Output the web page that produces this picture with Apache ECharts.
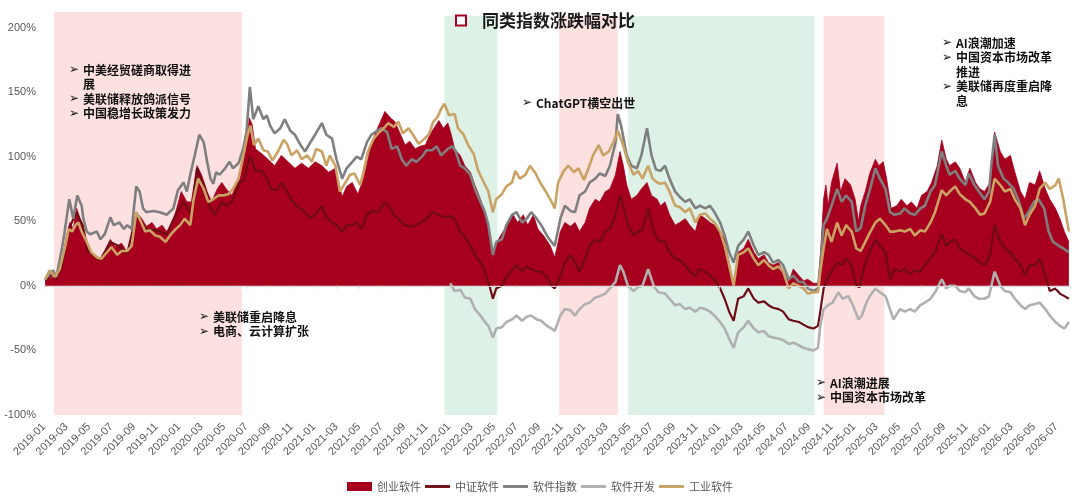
<!DOCTYPE html>
<html>
<head>
<meta charset="utf-8">
<script src="https://cdn.jsdelivr.net/npm/echarts@6/dist/echarts.min.js"></script>
<style>
html, body { margin: 0; padding: 0; background: #fff; }
#main { width: 1080px; height: 498px; }
</style>
</head>
<body>
<div id="main"></div>
<script>
// x = months since 2019-01-01, y = cumulative change in %
var cySoft = [[0.1,4],[0.8,7],[1.1,5],[1.6,18],[2.0,39],[2.3,49],[2.6,44],[2.9,60],[3.2,52],[3.5,47],[3.9,29],[4.4,24],[5.0,21],[5.4,27],[5.9,36],[6.3,30],[6.9,33],[7.4,26],[7.8,31],[8.2,57],[8.7,52],[9.1,46],[9.6,49],[10.0,44],[10.5,47],[10.9,42],[11.4,47],[11.8,60],[12.2,73],[12.7,65],[13.1,65],[13.6,93],[14.0,86],[14.5,73],[14.9,65],[15.4,75],[15.8,80],[16.2,75],[16.7,70],[17.1,78],[17.6,96],[17.9,104],[18.25,130],[18.5,125],[18.8,106],[19.4,102],[19.9,98],[20.5,93],[21.1,101],[21.7,96],[22.3,91],[22.9,95],[23.5,91],[24.1,96],[24.7,93],[25.3,88],[25.9,91],[26.5,69],[26.9,77],[27.4,80],[27.9,71],[28.4,83],[29.0,106],[29.4,117],[29.9,127],[30.3,135],[30.8,130],[31.2,127],[31.6,119],[32.1,109],[32.5,112],[33.0,106],[33.4,108],[33.9,109],[34.3,117],[34.8,124],[35.1,128],[35.5,122],[35.9,126],[36.2,117],[36.5,106],[37.0,101],[37.4,93],[37.9,88],[38.3,78],[38.8,67],[39.2,55],[39.6,42],[39.9,21],[40.1,31],[40.4,36],[40.8,42],[41.2,47],[41.7,55],[42.1,49],[42.6,55],[43.0,47],[43.5,55],[43.9,44],[44.4,39],[45.0,31],[45.4,22],[45.9,42],[46.3,49],[46.8,46],[47.2,49],[47.6,42],[48.1,49],[48.5,60],[49.0,67],[49.4,65],[49.9,73],[50.3,75],[50.8,86],[51.2,104],[51.5,93],[51.8,78],[52.2,67],[52.7,70],[53.1,75],[53.6,80],[54.0,70],[54.5,67],[54.8,62],[55.2,65],[55.6,55],[56.1,47],[56.5,49],[57.0,52],[57.4,47],[57.9,42],[58.3,55],[58.8,52],[59.2,49],[59.6,47],[60.1,42],[60.5,36],[60.9,18],[61.3,1],[61.7,26],[62.2,29],[62.6,36],[63.1,26],[63.5,21],[64.0,24],[64.4,18],[64.8,16],[65.3,18],[65.7,11],[66.2,3],[66.6,13],[67.1,8],[67.5,4],[67.9,5],[68.4,2],[68.8,2],[69.0,21],[69.3,67],[69.5,78],[69.7,62],[70.0,80],[70.5,95],[70.8,73],[71.2,83],[71.7,78],[72.1,67],[72.4,50],[72.6,62],[73.0,73],[73.4,87],[73.9,98],[74.2,93],[74.6,96],[74.9,83],[75.3,60],[75.8,62],[76.2,67],[76.7,62],[77.1,65],[77.6,60],[78.0,70],[78.5,73],[78.9,80],[79.4,93],[79.8,113],[80.2,98],[80.5,93],[81.0,96],[81.4,91],[81.9,80],[82.3,91],[82.8,80],[83.2,75],[83.6,73],[84.1,80],[84.5,119],[85.0,104],[85.4,98],[85.9,101],[86.3,88],[86.8,73],[87.2,67],[87.6,80],[88.1,78],[88.5,89],[89.0,75],[89.4,67],[89.9,60],[90.3,52],[90.7,42],[91.1,34]];

var zzSoft = [[0.1,4],[0.8,9],[1.1,5],[1.6,16],[2.0,34],[2.3,46],[2.9,57],[3.4,47],[3.9,27],[5.0,20],[5.9,34],[6.8,30],[7.4,25],[8.2,55],[9.1,44],[10.0,43],[10.9,40],[11.8,57],[12.4,65],[13.1,55],[13.6,91],[14.2,78],[14.8,60],[15.2,55],[15.8,65],[16.2,62],[16.8,66],[17.4,80],[17.8,82],[18.1,95],[18.35,100],[18.8,89],[19.4,89],[19.8,83],[20.2,75],[20.7,74],[21.1,80],[21.6,73],[22.0,66],[22.6,61],[23.2,57],[23.6,52],[24.1,55],[24.7,62],[25.1,53],[25.6,49],[26.0,47],[26.5,42],[26.9,47],[27.4,47],[27.8,49],[28.2,44],[28.7,55],[29.1,58],[29.7,57],[30.3,65],[30.8,60],[31.2,54],[31.6,51],[32.1,47],[32.7,46],[33.3,48],[33.9,51],[34.5,57],[35.1,55],[35.6,53],[36.1,54],[36.5,52],[37.0,42],[37.4,38],[37.9,31],[38.3,24],[38.8,18],[39.2,11],[39.6,0],[39.9,-10],[40.2,-2],[40.7,0],[41.1,7],[41.6,12],[42.0,16],[42.5,11],[42.9,15],[43.3,13],[43.8,11],[44.2,11],[44.7,7],[45.1,0],[45.4,-2],[45.9,8],[46.3,18],[46.8,24],[47.2,18],[47.6,11],[48.1,21],[48.5,31],[49.0,36],[49.4,34],[49.9,42],[50.3,44],[50.8,55],[51.2,70],[51.5,62],[51.9,47],[52.4,39],[52.8,42],[53.2,44],[53.7,60],[54.2,42],[54.6,35],[55.2,34],[55.6,26],[56.1,21],[56.5,20],[57.0,16],[57.4,11],[57.9,8],[58.3,13],[58.8,11],[59.2,8],[59.6,5],[60.1,-2],[60.5,-10],[60.9,-20],[61.3,-27],[61.7,-10],[62.2,-8],[62.6,-2],[63.1,-10],[63.5,-13],[64.0,-12],[64.4,-15],[64.8,-17],[65.3,-18],[65.7,-20],[66.2,-26],[66.6,-27],[67.1,-28],[67.5,-30],[67.9,-32],[68.4,-33],[68.8,-31],[69.0,-20],[69.3,-2],[69.6,5],[70.0,11],[70.5,18],[70.9,16],[71.3,21],[71.8,16],[72.2,0],[72.5,-1],[72.95,16],[73.4,26],[73.9,36],[74.3,31],[74.8,26],[75.2,5],[75.6,13],[76.1,11],[76.5,13],[77.0,9],[77.4,12],[77.9,11],[78.3,16],[78.8,21],[79.2,26],[79.8,40],[80.2,31],[80.5,34],[81.0,36],[81.4,29],[81.9,26],[82.3,24],[82.8,21],[83.2,18],[83.6,16],[84.1,24],[84.5,47],[85.0,34],[85.4,29],[85.9,26],[86.3,21],[86.8,16],[87.2,8],[87.6,16],[88.1,16],[88.5,21],[89.0,8],[89.4,-4],[89.9,-2],[90.3,-6],[90.7,-8],[91.1,-10]];

var rjIndex = [[0.1,5],[0.8,12],[1.1,7],[1.6,29],[1.8,40],[2.25,67],[2.6,52],[2.96,70],[3.35,62],[3.5,52],[3.8,42],[4.1,40],[4.7,42],[5.0,36],[5.4,40],[5.9,53],[6.2,47],[6.7,49],[7.1,44],[7.4,47],[7.8,44],[8.2,77],[8.5,73],[8.8,60],[9.1,57],[9.7,58],[10.3,57],[10.9,55],[11.5,60],[11.9,74],[12.4,80],[12.7,73],[13.0,86],[13.4,101],[13.8,117],[14.2,111],[14.5,96],[14.8,83],[15.05,79],[15.3,88],[15.6,86],[16.1,91],[16.5,96],[16.8,91],[17.3,95],[17.7,106],[18.0,119],[18.3,154],[18.6,129],[19.05,139],[19.5,129],[19.8,132],[20.1,124],[20.5,118],[21.0,122],[21.4,129],[21.9,120],[22.3,117],[22.8,109],[23.2,104],[23.6,110],[24.1,117],[24.7,126],[25.1,117],[25.6,114],[26.0,98],[26.5,83],[26.9,91],[27.4,96],[27.8,100],[28.2,98],[28.7,111],[29.1,117],[29.6,120],[30.0,122],[30.5,119],[30.9,106],[31.4,108],[31.8,98],[32.2,93],[32.7,98],[33.1,96],[33.6,100],[34.0,105],[34.5,105],[34.9,108],[35.3,101],[35.9,106],[36.3,108],[36.6,104],[37.0,93],[37.4,91],[37.9,86],[38.3,75],[38.8,65],[39.2,57],[39.5,47],[39.9,24],[40.2,34],[40.7,36],[41.1,47],[41.6,55],[42.0,57],[42.5,49],[42.9,52],[43.3,57],[43.8,52],[44.2,47],[44.7,39],[45.1,34],[45.4,31],[45.9,52],[46.3,62],[46.8,58],[47.2,57],[47.6,70],[48.1,73],[48.5,80],[49.0,83],[49.4,87],[49.9,85],[50.3,93],[50.8,111],[51.0,133],[51.3,124],[51.8,101],[52.2,93],[52.7,91],[53.1,101],[53.6,122],[54.0,101],[54.4,90],[54.8,89],[55.2,93],[55.6,83],[56.1,73],[56.5,69],[57.0,65],[57.4,67],[57.9,60],[58.3,62],[58.8,60],[59.2,62],[59.6,57],[60.1,49],[60.5,39],[60.9,26],[61.3,18],[61.7,31],[62.2,36],[62.6,42],[63.1,31],[63.5,24],[64.0,26],[64.4,24],[64.8,18],[65.3,20],[65.7,16],[66.2,5],[66.6,8],[67.1,3],[67.5,3],[67.9,-2],[68.4,-4],[68.8,-2],[69.0,16],[69.3,47],[69.6,52],[70.0,62],[70.5,75],[70.9,65],[71.3,70],[71.8,65],[72.2,42],[72.6,45],[73.0,62],[73.4,74],[73.9,91],[74.3,83],[74.8,75],[75.2,57],[75.6,55],[76.1,56],[76.5,60],[77.0,56],[77.4,55],[77.9,60],[78.3,62],[78.8,73],[79.2,78],[79.8,104],[80.2,93],[80.5,86],[81.0,89],[81.4,83],[81.9,78],[82.2,87],[82.7,78],[83.1,73],[83.6,67],[84.0,73],[84.2,93],[84.5,117],[84.8,93],[85.3,83],[85.7,80],[86.2,75],[86.6,67],[87.1,52],[87.5,57],[88.0,65],[88.4,67],[88.9,60],[89.3,42],[89.7,34],[90.2,31],[90.6,29],[91.1,26]];

var rjDev = [[36.1,2],[36.5,-4],[37.0,-3],[37.4,-9],[37.9,-10],[38.3,-18],[38.8,-23],[39.2,-28],[39.5,-31],[39.9,-40],[40.2,-33],[40.7,-32],[41.1,-28],[41.6,-26],[42.0,-23],[42.5,-27],[42.9,-24],[43.3,-23],[43.8,-26],[44.2,-27],[44.7,-31],[45.1,-33],[45.4,-35],[45.9,-23],[46.3,-18],[46.8,-19],[47.2,-23],[47.6,-18],[48.1,-14],[48.5,-13],[49.0,-9],[49.4,-8],[49.9,-6],[50.3,-2],[50.8,3],[51.2,16],[51.5,11],[51.9,0],[52.4,-4],[52.8,-1],[53.2,0],[53.7,13],[54.2,0],[54.6,-5],[55.2,-6],[55.6,-10],[56.1,-15],[56.5,-14],[57.0,-18],[57.4,-17],[57.9,-20],[58.3,-17],[58.8,-18],[59.2,-20],[59.6,-23],[60.1,-28],[60.5,-33],[60.9,-41],[61.3,-48],[61.7,-36],[62.2,-32],[62.6,-27],[63.1,-33],[63.5,-36],[64.0,-35],[64.4,-39],[64.8,-40],[65.3,-41],[65.7,-42],[66.2,-45],[66.6,-44],[67.1,-46],[67.5,-48],[67.9,-49],[68.4,-50],[68.8,-48],[69.0,-31],[69.3,-18],[69.7,-15],[70.1,-13],[70.6,-5],[71.0,-10],[71.5,-8],[71.9,-15],[72.4,-26],[72.7,-23],[73.1,-13],[73.4,-8],[73.9,-2],[74.3,-5],[74.8,-8],[75.2,-18],[75.5,-26],[76.1,-18],[76.5,-20],[77.0,-18],[77.4,-20],[77.9,-15],[78.3,-13],[78.8,-10],[79.2,-5],[79.8,5],[80.2,-2],[80.5,0],[81.0,0],[81.4,-4],[81.9,-5],[82.2,-2],[82.7,-8],[83.1,-10],[83.6,-10],[84.0,-8],[84.5,11],[85.0,0],[85.4,-4],[85.9,-5],[86.3,-10],[86.8,-15],[87.2,-18],[87.6,-15],[88.1,-14],[88.5,-13],[89.0,-18],[89.4,-23],[89.9,-28],[90.3,-31],[90.7,-33],[91.1,-28]];

var gySoft = [[0.1,5],[0.5,12],[1.0,7],[1.4,13],[1.9,31],[2.2,44],[2.5,42],[2.8,47],[3.05,49],[3.35,42],[3.8,34],[4.2,26],[4.7,22],[5.1,21],[5.6,26],[6.0,30],[6.5,24],[6.9,27],[7.4,27],[7.8,31],[8.2,57],[8.5,52],[9.0,42],[9.4,43],[9.9,39],[10.3,38],[10.8,34],[11.2,39],[11.6,43],[12.1,47],[12.5,52],[13.0,47],[13.3,67],[13.7,83],[14.2,75],[14.6,65],[15.05,67],[15.5,70],[15.9,70],[16.4,71],[16.8,75],[17.3,83],[17.7,100],[18.1,117],[18.35,124],[18.65,109],[19.05,114],[19.5,105],[19.9,104],[20.3,97],[20.8,104],[21.3,113],[21.6,110],[22.0,101],[22.5,105],[22.9,98],[23.4,101],[23.8,96],[24.2,106],[24.7,104],[25.1,93],[25.4,101],[25.9,93],[26.3,73],[26.8,80],[27.2,86],[27.6,87],[28.1,78],[28.4,88],[28.8,104],[29.3,114],[29.7,118],[30.2,122],[30.6,126],[31.1,123],[31.5,127],[31.9,118],[32.4,122],[32.8,117],[33.3,110],[33.7,113],[34.2,117],[34.6,127],[35.0,131],[35.3,137],[35.6,141],[36.0,132],[36.5,133],[36.8,122],[37.3,117],[37.7,109],[38.2,102],[38.6,89],[39.1,80],[39.5,73],[39.9,57],[40.2,67],[40.7,71],[41.1,77],[41.6,80],[41.9,89],[42.3,83],[42.8,86],[43.2,93],[43.7,87],[44.1,80],[44.6,73],[45.0,67],[45.4,60],[45.7,80],[46.2,89],[46.6,93],[47.1,88],[47.5,91],[48.0,82],[48.4,91],[48.8,101],[49.3,109],[49.7,101],[50.2,104],[50.6,111],[51.0,120],[51.4,111],[51.9,96],[52.4,86],[52.8,89],[53.2,83],[53.7,93],[54.1,83],[54.5,80],[54.8,79],[55.2,80],[55.6,73],[56.1,62],[56.5,61],[57.0,57],[57.4,60],[57.9,49],[58.3,55],[58.8,56],[59.2,52],[59.6,49],[60.1,42],[60.5,31],[60.9,16],[61.3,0],[61.7,24],[62.2,26],[62.6,29],[63.1,21],[63.5,16],[64.0,20],[64.4,16],[64.8,13],[65.3,15],[65.7,11],[66.2,-2],[66.6,2],[67.1,0],[67.5,-2],[67.9,-6],[68.4,-5],[68.8,-5],[69.0,11],[69.3,29],[69.6,44],[70.0,34],[70.5,49],[70.9,39],[71.3,47],[71.8,42],[72.2,29],[72.6,27],[73.0,34],[73.4,41],[73.9,49],[74.3,52],[74.8,47],[75.2,42],[75.6,42],[76.1,43],[76.5,42],[77.0,44],[77.4,39],[77.9,43],[78.3,42],[78.8,49],[79.2,57],[79.8,74],[80.2,70],[80.5,73],[81.0,77],[81.4,71],[81.9,67],[82.3,65],[82.8,60],[83.2,55],[83.6,56],[84.1,65],[84.5,83],[85.0,78],[85.4,73],[85.9,75],[86.3,67],[86.8,60],[87.2,47],[87.6,55],[88.1,62],[88.5,75],[89.0,80],[89.4,75],[89.9,78],[90.2,83],[90.6,67],[91.1,42]];

var seriesNames = ['创业软件', '中证软件', '软件指数', '软件开发', '工业软件'];

// shaded periods: [from month, to month, colour, top %]
var bands = [
    [0.9, 17.6, '#fde1e1', 212],
    [35.6, 40.3, '#ddf1e7', 209],
    [45.8, 51.0, '#fde1e1', 209],
    [51.9, 68.5, '#ddf1e7', 209],
    [69.3, 74.7, '#fde1e1', 209]
];

// event notes (pixel positions), [text, has bullet]
var notes = [
    {x: 70, y: 70, lines: [['中美经贸磋商取得进', 1], ['展', 0], ['美联储释放鸽派信号', 1], ['中国稳增长政策发力', 1]]},
    {x: 200, y: 317, lines: [['美联储重启降息', 1], ['电商、云计算扩张', 1]]},
    {x: 523, y: 103, lines: [['ChatGPT横空出世', 1]]},
    {x: 943, y: 43, lines: [['AI浪潮加速', 1], ['中国资本市场改革', 1], ['推进', 0], ['美联储再度重启降', 1], ['息', 0]]},
    {x: 817, y: 383, lines: [['AI浪潮进展', 1], ['中国资本市场改革', 1]]}
];

var latin = "'Liberation Sans', 'Noto Sans CJK SC', sans-serif";
var cjk = "'Noto Sans CJK SC', sans-serif";

function monthLabel(v) {
    if (v % 2 !== 0) return '';
    var y = 2019 + Math.floor(v / 12);
    var m = v % 12 + 1;
    return y + '-' + (m < 10 ? '0' + m : m);
}

// build the note texts
var graphics = [];
notes.forEach(function (n) {
    n.lines.forEach(function (l, i) {
        var y = n.y + i * 14.6;
        if (l[1]) {
            graphics.push({
                type: 'text', x: n.x - 1, y: y, z: 100, silent: true,
                style: {text: '➢', fill: '#111', fontSize: 12, fontWeight: 'bold', fontFamily: "'DejaVu Sans', sans-serif", verticalAlign: 'middle'}
            });
        }
        graphics.push({
            type: 'text', x: n.x + 13, y: y, z: 100, silent: true,
            style: {text: l[0], fill: '#111', fontSize: 12, fontWeight: 'bold', fontFamily: cjk, verticalAlign: 'middle'}
        });
    });
});
// title
graphics.push({
    type: 'rect', z: 100, silent: true,
    shape: {x: 456, y: 15.5, width: 10, height: 10},
    style: {fill: '#fff', stroke: '#A50021', lineWidth: 2}
});
graphics.push({
    type: 'text', x: 482, y: 21, z: 100, silent: true,
    style: {text: '同类指数涨跌幅对比', fill: '#1a1a1a', fontSize: 17, fontWeight: 'bold', fontFamily: cjk, verticalAlign: 'middle'}
});

var chart = echarts.init(document.getElementById('main'));

var lineIcon = 'path://M0,0H26V3H0Z';

function lineSeries(name, data, color, width) {
    return {
        name: name,
        type: 'line',
        data: data,
        symbol: 'none',
        showSymbol: false,
        z: 3,
        lineStyle: {color: color, width: width},
        itemStyle: {color: color}
    };
}

var option = {
    animation: false,
    backgroundColor: '#fff',
    grid: {left: 44, right: 10, top: 12, bottom: 83, containLabel: false},
    legend: {
        top: 476,
        left: 'center',
        itemWidth: 25,
        itemHeight: 9,
        itemGap: 4,
        textStyle: {color: '#595959', fontSize: 11, fontFamily: cjk},
        data: [
            {name: seriesNames[0], icon: 'rect'},
            {name: seriesNames[1], icon: lineIcon},
            {name: seriesNames[2], icon: lineIcon},
            {name: seriesNames[3], icon: lineIcon},
            {name: seriesNames[4], icon: lineIcon}
        ]
    },
    xAxis: [{
        type: 'value',
        position: 'bottom',
        min: 0,
        max: 91.2,
        interval: 2,
        axisLine: {show: false, onZero: false},
        axisTick: {show: false},
        splitLine: {show: false},
        axisLabel: {
            rotate: 45,
            margin: 10,
            color: '#595959',
            fontSize: 11,
            fontFamily: latin,
            showMaxLabel: false,
            formatter: monthLabel
        }
    }, {
        type: 'value',
        position: 'bottom',
        min: 0,
        max: 91.2,
        interval: 2,
        z: 5,
        axisLine: {show: true, onZero: true, lineStyle: {color: '#d9d9d9', width: 1}},
        axisTick: {show: true, length: 3, lineStyle: {color: '#d9d9d9'}},
        axisLabel: {show: false},
        splitLine: {show: false}
    }],
    yAxis: {
        type: 'value',
        min: -100,
        max: 212,
        interval: 50,
        axisLine: {show: false},
        axisTick: {show: false},
        splitLine: {show: false},
        axisLabel: {
            margin: 8,
            color: '#595959',
            fontSize: 11,
            fontFamily: latin,
            formatter: function (v) { return v % 50 === 0 ? v + '%' : ''; }
        }
    },
    graphic: graphics,
    series: [
        {
            type: 'line',
            data: [],
            z: 0,
            silent: true,
            markArea: {
                silent: true,
                data: bands.map(function (b) {
                    return [{xAxis: b[0], yAxis: -100, itemStyle: {color: b[2], opacity: 1}}, {xAxis: b[1], yAxis: b[3]}];
                })
            }
        },
        {
            name: seriesNames[0],
            type: 'line',
            data: cySoft,
            symbol: 'none',
            showSymbol: false,
            z: 2,
            lineStyle: {color: '#A6001E', width: 0.8},
            itemStyle: {color: '#A6001E'},
            areaStyle: {color: '#A6001E', opacity: 1}
        },
        lineSeries(seriesNames[1], zzSoft, '#6E0B14', 2.2),
        lineSeries(seriesNames[2], rjIndex, '#7F7F7F', 2.6),
        lineSeries(seriesNames[3], rjDev, '#B0B0B0', 2.6),
        lineSeries(seriesNames[4], gySoft, '#C9A264', 2.6)
    ]
};

chart.setOption(option);
</script>
</body>
</html>
